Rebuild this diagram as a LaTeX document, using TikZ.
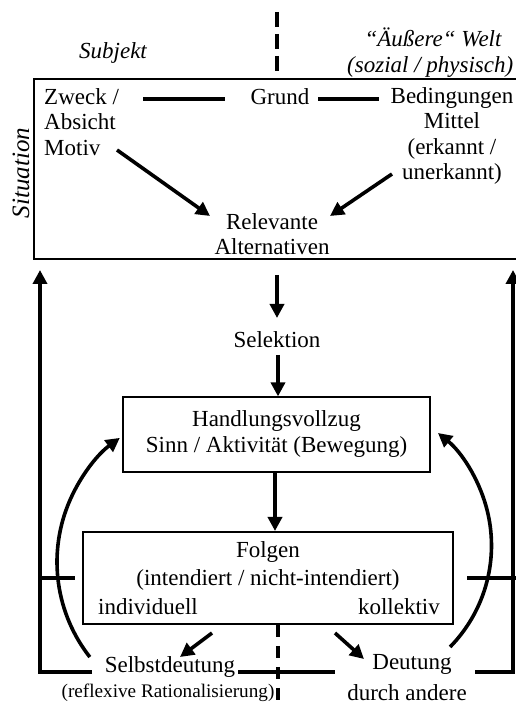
\documentclass[tikz,border=0pt]{standalone}
\usepackage{fontspec}
\setmainfont{Liberation Serif}
\usetikzlibrary{arrows.meta}
\tikzset{
  txt/.style={inner sep=0pt, font=\fontsize{23}{25.5}\selectfont},
  itxt/.style={inner sep=0pt, font=\fontsize{23}{25.5}\selectfont\itshape},
  smalltxt/.style={inner sep=0pt, font=\fontsize{19.2}{22}\selectfont},
  frame/.style={draw, line width=1.6pt, inner sep=0pt},
  boxthin/.style={draw, line width=1.2pt, inner sep=0pt},
  arr/.style={line width=3.6pt, -{Triangle[length=14pt,width=14pt]}},
  bar/.style={line width=3.6pt},
  divider/.style={line width=3.6pt, dash pattern=on 15pt off 7pt},
  divider2/.style={line width=3.6pt, dash pattern=on 12pt off 9pt},
}
\begin{document}
\begin{tikzpicture}[x=1pt,y=1pt]
\useasboundingbox (0,0) rectangle (515,705);

% ---- situation frame and its labels
\node[frame, anchor=north west, minimum width=500pt, minimum height=180pt] (sitbox) at (33,627) {};
\node[itxt] (subj) at (113,652) {Subjekt};
\node[itxt] (welt) at (433,668) {“Äußere“ Welt};
\node[itxt, anchor=west] (welt2) at (347,638) {(sozial / physisch)};
\node[itxt, rotate=90, font=\fontsize{25}{27}\selectfont\itshape] (sit) at (21,532) {Situation};

% ---- contents of the situation frame
\node[txt, anchor=west, align=left] (zweck) at (44,583) {Zweck /\\Absicht\\Motiv};
\node[txt] (grund) at (280,608) {Grund};
\node[txt, align=center] (bed) at (452,569) {Bedingungen\\Mittel\\(erkannt /\\unerkannt)};
\node[txt, align=center] (rel) at (272,471) {Relevante\\Alternativen};

% ---- middle chain
\node[txt] (sel) at (277,365) {Selektion};
\node[boxthin, minimum width=307pt, minimum height=75pt] (hand) at (276.5,270.5) {};
\node[txt, align=center] (handtxt) at (276.5,271) {Handlungsvollzug\\Sinn / Aktivität (Bewegung)};
\node[boxthin, minimum width=370pt, minimum height=92pt] (folg) at (268,127) {};
\node[txt] (folg1) at (268,153) {Folgen};
\node[txt] (folg2) at (268,125) {(intendiert / nicht-intendiert)};
\node[txt, anchor=west] (indiv) at (98,98) {individuell};
\node[txt, anchor=east] (koll) at (440,98) {kollektiv};

% ---- interpretations at the bottom
\node[txt] (selbst) at (170,38) {Selbstdeutung};
\node[smalltxt] (reflex) at (168,12) {(reflexive Rationalisierung)};
\node[txt] (deut) at (412,41) {Deutung};
\node[txt] (durch) at (407,12) {durch andere};

% ---- helper points for connector ends
\coordinate (dtop) at (277,693);
\coordinate (l1a) at (143,606);
\coordinate (l1b) at (225,606);
\coordinate (l2a) at (318,606);
\coordinate (l2b) at (379,606);
\coordinate (za) at (117,555);
\coordinate (zb) at (210,489);
\coordinate (ba) at (392,531);
\coordinate (bb) at (330,489);
\coordinate (s1a) at (277,430);
\coordinate (s1b) at (277,387);
\coordinate (s2a) at (278,350);
\coordinate (h1a) at (275,233);
\coordinate (h1b) at (275,174);
\coordinate (fa) at (212,72);
\coordinate (fb) at (180,48);
\coordinate (ga) at (335,72);
\coordinate (gb) at (364,46);
\coordinate (bl0) at (92,33);
\coordinate (bl1) at (40,33);
\coordinate (bl2) at (40,435);
\coordinate (br0) at (475,33);
\coordinate (br1) at (513,33);
\coordinate (br2) at (513,435);
\coordinate (tl0) at (42,127);
\coordinate (tl1) at (75,127);
\coordinate (tr0) at (467,127);
\coordinate (tr1) at (518,127);
\coordinate (mb0) at (238,33);
\coordinate (mb1) at (335,33);
\coordinate (dbot0) at (278,80);
\coordinate (dbot1) at (278,0);
\coordinate (arcL) at (211,143);
\coordinate (arcR) at (346.5,159.5);

% ---- subject / world divider
\draw[divider] (dtop) -- (dtop |- sitbox.north);
\draw[divider2] (dbot0) -- (dbot1);

% ---- links inside the frame
\draw[bar] (l1a) -- (l1b);
\draw[bar] (l2a) -- (l2b);
\draw[arr] (za) -- (zb);
\draw[arr] (ba) -- (bb);

% ---- selection and execution
\draw[arr] (s1a) -- (s1b);
\draw[arr] (s2a) -- (hand.north -| s2a);
\draw[arr] (h1a) -- (h1b);

% ---- consequences to interpretations
\draw[arr] (fa) -- (fb);
\draw[arr] (ga) -- (gb);
\draw[bar] (mb0) -- (mb1);

% ---- feedback to the situation
\draw[arr, line join=miter] (bl0) -- (bl1) -- (bl2);
\draw[arr, line join=miter] (br0) -- (br1) -- (br2);
\draw[bar] (tl0) -- (tl1);
\draw[bar] (tr0) -- (tr1);

% ---- reinterpretation arcs back to the execution
\draw[arr] (arcL) ++(218.1:154) arc[start angle=218.1, end angle=126.3, radius=154];
\draw[arr] (arcR) ++(-44.4:145) arc[start angle=-44.4, end angle=50.9, radius=145];
\end{tikzpicture}
\end{document}
